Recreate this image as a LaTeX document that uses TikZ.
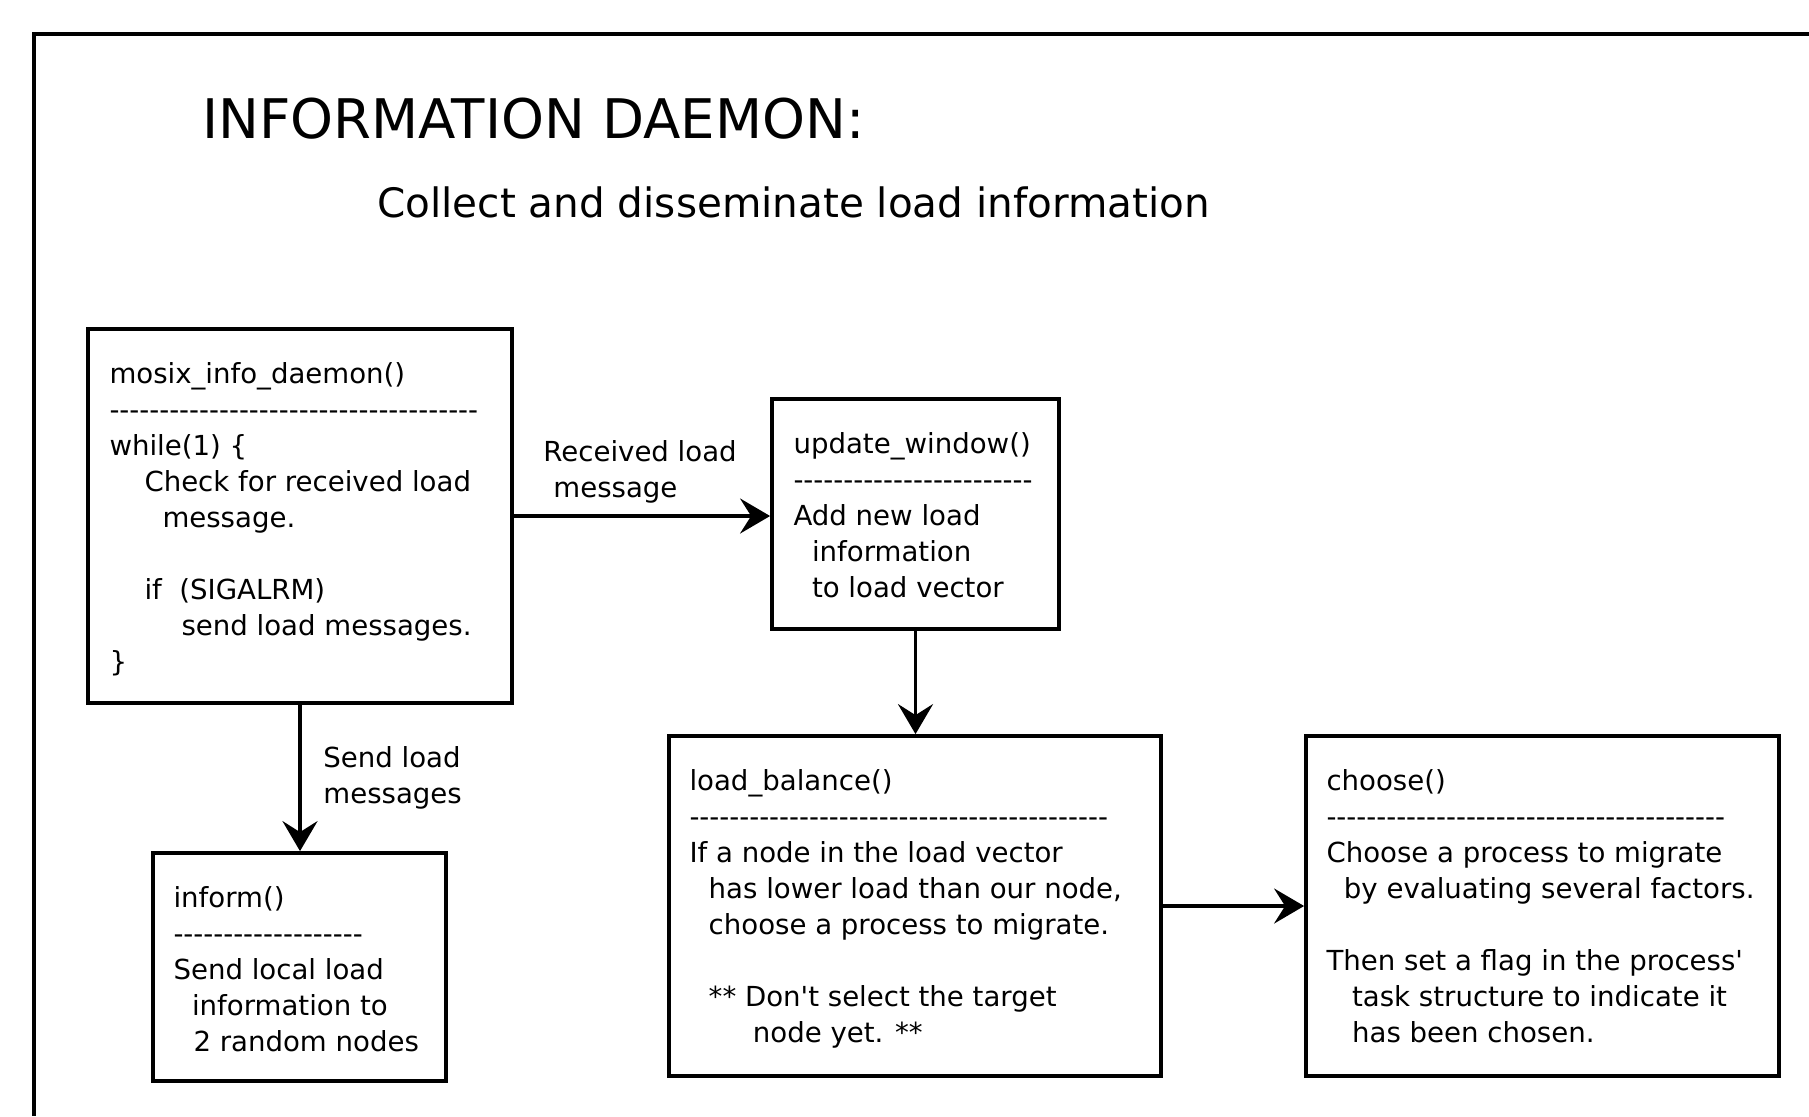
\documentclass[tikz,border=0pt]{standalone}
\usepackage{fontspec}
\setmainfont{DejaVu Sans}
\newfontfamily\dvs{DejaVu Sans}
\usetikzlibrary{arrows.meta}

% a run of plain hyphens, kept apart so no dash ligature forms
\newcommand\hyrow[1]{\foreach \k in {1,...,#1}{-\kern0pt}}
\newcommand\ind[1]{\hspace*{#1pt}}

\tikzset{
  box/.style={draw, line width=1.9pt, rectangle, inner sep=0pt},
  boxtext/.style={anchor=north west, inner sep=0pt, align=left,
                  font=\dvs\fontsize{13.8}{18}\selectfont},
  flow/.style={line width=1.9pt, -{Stealth[length=15pt,width=17.5pt,inset=5.5pt]}},
}

\begin{document}
\begin{tikzpicture}[x=0.5pt,y=-0.5pt]
  \useasboundingbox (0,0) rectangle (1809,1116);
  \fill[white] (0,0) rectangle (1809,1116);

  % outer frame, running off the right and bottom edges
  \draw[line width=2pt] (1809,34) -- (34,34) -- (34,1116);

  % headings
  \node[anchor=base west, inner sep=0pt, font=\dvs\fontsize{27.3}{32}\selectfont]
    (title) at (202,138) {INFORMATION DAEMON:};
  \node[anchor=base west, inner sep=0pt, font=\dvs\fontsize{20.25}{24}\selectfont]
    (subtitle) at (377,217) {Collect and disseminate load information};

  % boxes
  \node[box, minimum width=212pt, minimum height=187pt] (mosix)  at (300,516) {};
  \node[box, minimum width=143.5pt, minimum height=115pt] (update) at (915.5,514) {};
  \node[box, minimum width=146.5pt, minimum height=114pt] (inform) at (299.5,967) {};
  \node[box, minimum width=246pt, minimum height=170pt] (balance) at (915,906) {};
  \node[box, minimum width=236.5pt, minimum height=170pt] (choose) at (1542.5,906) {};

  % box contents
  \node[boxtext] (mosixT) at ([shift={(23,35)}]mosix.north west) {%
    mosix\_info\_daemon()\\
    \hyrow{37}\\
    while(1) \{\\
    \ind{17.5}Check for received load\\
    \ind{26.5}message.\\[18pt]
    \ind{17.5}if~~(SIGALRM)\\
    \ind{36}send load messages.\\
    \}};

  \node[boxtext] (updateT) at ([shift={(23,35)}]update.north west) {%
    update\_window()\\
    \hyrow{24}\\
    Add new load\\
    \ind{9.25}information\\
    \ind{9.25}to load vector};

  \node[boxtext] (informT) at ([shift={(22,35)}]inform.north west) {%
    inform()\\
    \hyrow{19}\\
    Send local load\\
    \ind{9.25}information to\\
    \ind{10}2 random nodes};

  \node[boxtext] (balanceT) at ([shift={(22,35)}]balance.north west) {%
    load\_balance()\\
    \hyrow{42}\\
    If a node in the load vector\\
    \ind{9.6}has lower load than our node,\\
    \ind{9.6}choose a process to migrate.\\[18pt]
    \ind{9.6}** Don\textquotesingle t select the target\\
    \ind{31.7}node yet. **};

  \node[boxtext] (chooseT) at ([shift={(22,35)}]choose.north west) {%
    choose()\\
    \hyrow{40}\\
    Choose a process to migrate\\
    \ind{8.7}by evaluating several factors.\\[18pt]
    Then set a flag in the process\textquotesingle\\
    \ind{12.8}task structure to indicate it\\
    \ind{12.8}has been chosen.};

  % connectors
  \draw[flow] (mosix.east) -- (mosix.east -| update.west);
  \draw[flow] (mosix.south) -- (mosix.south |- inform.north);
  \draw[flow] (update.south) -- (update.south |- balance.north);
  \draw[flow] (balance.east) -- (choose.west);

  % connector labels
  \node[boxtext] (recvL) at (543,440) {Received load\\\ind{5}message};
  \node[boxtext] (sendL) at (323,746) {Send load\\messages};
\end{tikzpicture}
\end{document}
